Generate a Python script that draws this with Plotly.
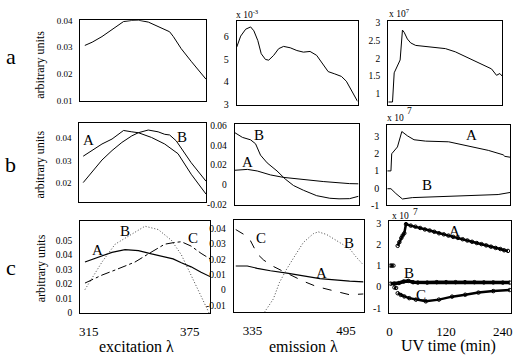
import plotly.graph_objects as go

W, H = 520, 358
FONT = "Liberation Serif"

# ---------------- data ----------------
# row a
exc_a = [312.8, 317.3, 323.3, 327.4, 332.4, 336.5, 341.5, 345.6, 351.7, 355.7, 360.7, 364.7, 367.0, 371.8, 377.9, 384.0, 387.0]
int_a = [0.0307, 0.0319, 0.0340, 0.0358, 0.0379, 0.0396, 0.0400, 0.0401, 0.0394, 0.0382, 0.0367, 0.0358, 0.0340, 0.0295, 0.0248, 0.0205, 0.0181]

em_a = [303, 310.3, 319.4, 328.5, 334.5, 341.8, 348, 355.8, 361.8, 370.9, 380, 389.1, 401.3, 413.5, 425.5, 437.7, 449.8, 461.9, 471, 483.1, 495.3, 504.4, 510.4, 517, 525]
emv_a = [5.52, 6.0, 6.3, 6.4, 6.23, 5.8, 5.23, 4.98, 4.95, 5.16, 5.45, 5.55, 5.49, 5.37, 5.3, 5.33, 5.16, 4.74, 4.45, 4.35, 4.24, 4.03, 3.79, 3.5, 3.15]

t_a = [0, 9.6, 13.4, 23, 26.8, 32, 35.8, 43.1, 50.7, 61.9, 69.3, 99, 129, 151.3, 173.6, 203.4, 233, 244.3, 251.8, 257]
uv_a = [0.77, 0.77, 1.59, 1.82, 1.95, 2.79, 2.73, 2.54, 2.43, 2.36, 2.35, 2.32, 2.27, 2.18, 2.05, 1.88, 1.70, 1.52, 1.57, 1.50]

# row b
exc_bA = [312.4, 317.8, 323.8, 329.9, 336.9, 341.9, 345.9, 353.9, 361.9, 370, 378, 387]
bA = [0.032, 0.0345, 0.0374, 0.0396, 0.0434, 0.0428, 0.0424, 0.0403, 0.0374, 0.0331, 0.024, 0.0152]
exc_bB = [312.4, 317.8, 323.8, 329.9, 335.9, 341.9, 345.9, 351.9, 357.9, 361.9, 364.9, 368.9, 378, 387]
bB = [0.0203, 0.0252, 0.0303, 0.0345, 0.0381, 0.041, 0.0424, 0.0436, 0.0428, 0.0417, 0.0414, 0.0388, 0.0291, 0.0209]

em_bA = [303, 325.6, 343.3, 367, 390.6, 426.1, 461.6, 509, 525]
bAe = [0.0147, 0.0156, 0.014, 0.010, 0.0075, 0.0052, 0.0033, 0.0012, 0.001]
em_bB = [303, 316.7, 331.4, 340.3, 349.2, 361.1, 378.8, 393.6, 408.3, 426.1, 449.9, 473.5, 490, 509, 525]
bBe = [0.0528, 0.048, 0.0455, 0.0415, 0.030, 0.0222, 0.014, 0.0058, -0.0007, -0.0055, -0.011, -0.0136, -0.0142, -0.014, -0.0116]

t_bA = [0, 7.7, 9.3, 21.3, 30.5, 42.1, 56, 80.2, 128.5, 176.8, 211.4, 242.5, 246, 257]
bAu = [1.0, 1.0, 2.0, 2.4, 3.3, 3.05, 2.82, 2.74, 2.7, 2.42, 2.2, 1.94, 1.85, 1.8]
t_bB = [0, 7.7, 18, 31.7, 52.4, 107.8, 176.8, 232, 257]
bBu = [-0.04, -0.04, -0.32, -0.64, -0.56, -0.5, -0.45, -0.38, -0.26]

# row c
exc_cA = [312.8, 322.9, 328.8, 336.6, 344.5, 352.3, 360.1, 365.1, 370, 375.8, 381.7, 387]
cA = [0.035, 0.039, 0.0417, 0.0435, 0.0429, 0.0406, 0.0384, 0.0372, 0.0345, 0.0317, 0.028, 0.025]
exc_cB = [312.8, 317.1, 322.9, 330.7, 338.6, 348.4, 356.3, 364.1, 370, 375.8, 381.7, 386.4]
cB = [0.016, 0.0238, 0.035, 0.0473, 0.053, 0.0597, 0.0574, 0.050, 0.040, 0.026, 0.0115, 0.0]
exc_cC = [312.8, 322.9, 330.7, 342.5, 350.4, 360.1, 366, 370, 375.8, 381.7, 387]
cC = [0.0205, 0.026, 0.0295, 0.035, 0.0406, 0.0473, 0.0485, 0.049, 0.046, 0.041, 0.0372]

em_cA = [306.4, 326.2, 343.2, 365.7, 394, 422.1, 450.4, 501.3, 525]
cAe = [0.0157, 0.0157, 0.0142, 0.0126, 0.0111, 0.0094, 0.0075, 0.0058, 0.0054]
em_cB = [355.5, 370.8, 381, 392.8, 406.4, 422.1, 439.1, 447.6, 461.8, 478.7, 490, 501.3, 511.4, 523.3]
cBe = [-0.0144, -0.0057, 0.0048, 0.0132, 0.0216, 0.031, 0.0367, 0.0379, 0.0362, 0.0325, 0.030, 0.027, 0.022, 0.017]
em_cC = [306.4, 320.5, 331.8, 343.2, 354.3, 371.3, 388.2, 399.6, 422.1, 444.8, 473, 501.3, 525]
cCe = [0.0394, 0.0362, 0.032, 0.0236, 0.0195, 0.0153, 0.0121, 0.010, 0.0058, 0.0023, -0.0004, -0.003, -0.0025]

t_cA = [2.1, 5, 8.4, None, 17.4, 20.9, 25.1, 28, 31.4, 35, 45, 55, 65, 75, 85, 95, 105, 115, 125, 135, 145, 155, 165, 175, 185, 195, 205, 215, 225, 235, 243, 251]
cAu = [1.0, 1.0, 1.0, None, 1.93, 2.1, 2.3, 2.42, 2.52, 2.95, 2.88, 2.83, 2.77, 2.70, 2.65, 2.59, 2.52, 2.47, 2.41, 2.35, 2.30, 2.24, 2.18, 2.12, 2.06, 2.01, 1.95, 1.89, 1.83, 1.78, 1.72, 1.69]
t_cB = [2.1, 10, 20, 30, 40, 50, 60, 80, 100, 120, 140, 160, 180, 200, 220, 240, 255]
cBu = [0.15, 0.15, 0.18, 0.25, 0.28, 0.22, 0.2, 0.2, 0.22, 0.22, 0.22, 0.22, 0.22, 0.21, 0.21, 0.2, 0.2]
t_cC = [10.5, 14, None, 17.4, 24, 31.4, 41.9, 55.9, 76.9, 104.7, 132.6, 160.6, 188.5, 220, 255]
cCu = [-0.03, -0.05, None, -0.3, -0.38, -0.45, -0.53, -0.6, -0.68, -0.6, -0.46, -0.37, -0.27, -0.2, -0.15]

# tick labels
yt_a1 = [0.01, 0.02, 0.03, 0.04]; ytt_a1 = ["0.01", "0.02", "0.03", "0.04"]
yt_a2 = [3, 4, 5, 6]; ytt_a2 = ["3", "4", "5", "6"]
yt_a3 = [1, 1.5, 2, 2.5, 3]; ytt_a3 = ["1", "1.5", "2", "2.5", "3"]
yt_b1 = [0.02, 0.03, 0.04]; ytt_b1 = ["0.02", "0.03", "0.04"]
yt_b2 = [-0.02, 0, 0.02, 0.04, 0.06]; ytt_b2 = ["-0.02", "0", "0.02", "0.04", "0.06"]
yt_b3 = [-1, 0, 1, 2, 3]; ytt_b3 = ["-1", "0", "1", "2", "3"]
yt_c1 = [0, 0.01, 0.02, 0.03, 0.04, 0.05]; ytt_c1 = ["0", "0.01", "0.02", "0.03", "0.04", "0.05"]
yt_c2 = [-0.01, 0, 0.01, 0.02, 0.03, 0.04]; ytt_c2 = ["-0.01", "0", "0.01", "0.02", "0.03", "0.04"]
yt_c3 = [-1, 0, 1, 2, 3]; ytt_c3 = ["-1", "0", "1", "2", "3"]
xt_exc = [315, 375]; xt_em = [335, 495]; xt_t = [0, 120, 240]

# ---------------- layout helpers ----------------
def xd(l, r):
    return [l / W, r / W]

def yd(t, b):
    return [1 - b / H, 1 - t / H]

panels = [
    (1, (78, 205), (15.7, 99.3), [310, 387], [0.0099, 0.0401], yt_a1, ytt_a1, 9, None),
    (2, (236, 358), (16, 103), [303, 525], [3, 6.68], yt_a2, ytt_a2, 10, None),
    (3, (389, 504), (16, 103), [0, 257], [0.69, 3.06], yt_a3, ytt_a3, 9.5, None),
    (4, (77, 205), (122, 203), [310, 387], [0.0118, 0.0466], yt_b1, ytt_b1, 9, None),
    (5, (234, 359), (123, 206), [303, 525], [-0.0201, 0.0613], yt_b2, ytt_b2, 9.5, None),
    (6, (388, 512), (124, 206.5), [0, 257], [-1.0, 3.67], yt_b3, ytt_b3, 10, None),
    (7, (78, 209), (223, 318), [310, 387], [-0.0003, 0.0632], yt_c1, ytt_c1, 9.5, xt_exc),
    (8, (233, 364), (222, 317), [303, 525], [-0.0144, 0.0455], yt_c2, ytt_c2, 9.5, xt_em),
    (9, (390, 512.7), (223, 318), [-0.5, 257], [-1.24, 3.09], yt_c3, ytt_c3, 10, xt_t),
]

fig = go.Figure()
layout = {}
for k, xp, yp, xr, yr, yt, ytt, yf, xt in panels:
    s = "" if k == 1 else str(k)
    xa = dict(
        domain=xd(*xp), range=xr, anchor="y" + s, showline=True, mirror=True,
        linecolor="black", linewidth=1, showgrid=False, zeroline=False, ticks="",
    )
    if xt is None:
        xa["showticklabels"] = False
    else:
        xa.update(tickvals=xt, ticktext=[str(v) for v in xt],
                  tickfont=dict(family=FONT, size=13, color="black"), ticklabelstandoff=6)
    layout["xaxis" + s] = xa
    layout["yaxis" + s] = dict(
        domain=yd(*yp), range=yr, anchor="x" + s, showline=True, mirror=True,
        linecolor="black", linewidth=1, showgrid=False, zeroline=False,
        ticks="", tickvals=yt, ticktext=ytt,
        tickfont=dict(family=FONT, size=yf, color="black"), ticklabelstandoff=5,
    )

def ax(k):
    s = "" if k == 1 else str(k)
    return dict(xaxis="x" + s, yaxis="y" + s)

def line(x, y, k, dash="solid", width=1.0, color="black"):
    fig.add_trace(go.Scatter(x=x, y=y, mode="lines", line=dict(color=color, width=width, dash=dash),
                             showlegend=False, hoverinfo="skip", **ax(k)))

DOT = "1px,2px"
line(exc_a, int_a, 1)
line(em_a, emv_a, 2)
line(t_a, uv_a, 3)
line(exc_bA, bA, 4)
line(exc_bB, bB, 4)
line(em_bA, bAe, 5)
line(em_bB, bBe, 5)
line(t_bA, bAu, 6)
line(t_bB, bBu, 6)
line(exc_cA, cA, 7, width=1.2)
line(exc_cB, cB, 7, dash=DOT, color="#444")
line(exc_cC, cC, 7, dash="dashdot")
line(em_cA, cAe, 8, width=1.2)
line(em_cB, cBe, 8, dash=DOT, color="#444")
line(em_cC, cCe, 8, dash="dash")

for x, y, w in [(t_cA, cAu, 2.5), (t_cB, cBu, 3.5), (t_cC, cCu, 2.5)]:
    fig.add_trace(go.Scatter(x=x, y=y, mode="lines+markers",
                             line=dict(color="black", width=w),
                             marker=dict(symbol="circle-open", size=3.5, color="black", line=dict(width=1)),
                             showlegend=False, hoverinfo="skip", connectgaps=False, **ax(9)))

ann = []
def txt(x, y, t, size, **kw):
    ann.append(dict(x=x / W, y=1 - y / H, xref="paper", yref="paper", text=t, showarrow=False,
                    xanchor="center", yanchor="middle",
                    font=dict(family=FONT, size=size, color="black"), **kw))

txt(8, 53, "a", 22)
txt(8, 165, "b", 22)
txt(8, 271, "c", 22)
txt(37, 62, "arbitrary units", 12, textangle=-90)
txt(37, 165, "arbitrary units", 12, textangle=-90)
txt(38, 272, "arbitrary units", 12, textangle=-90)
txt(135, 352, "excitation λ", 16)
txt(303, 352, "emission λ", 16)
txt(450, 352, "UV time (min)", 16)
txt(247, 9, "x 10<sup>-3</sup>", 9.5)
txt(400, 8, "x 10<sup>7</sup>", 9.5)
txt(396, 117, "x 10", 9.5)
txt(410, 109, "7", 9.5)
txt(401, 218, "x 10", 9.5)
txt(416, 214, "7", 9.5)
# curve labels
txt(86, 139, "A", 15); txt(181, 136, "B", 15)
txt(258, 134, "B", 15); txt(247, 162, "A", 15)
txt(473, 134, "A", 15); txt(428, 186, "B", 15)
txt(95, 253, "A", 15); txt(123, 233, "B", 15); txt(192, 240, "C", 15)
txt(260, 240, "C", 15); txt(322, 277, "A", 15); txt(349, 246, "B", 15)
txt(456, 233, "A", 15); txt(410, 277, "B", 15); txt(422, 299, "C", 15)

fig.update_layout(width=W, height=H, autosize=False, margin=dict(l=0, r=0, t=0, b=0),
                  paper_bgcolor="white", plot_bgcolor="white", annotations=ann, **layout)

fig.write_html("out.html", config={"displayModeBar": False},
               post_script="document.body.style.margin='0px';")
